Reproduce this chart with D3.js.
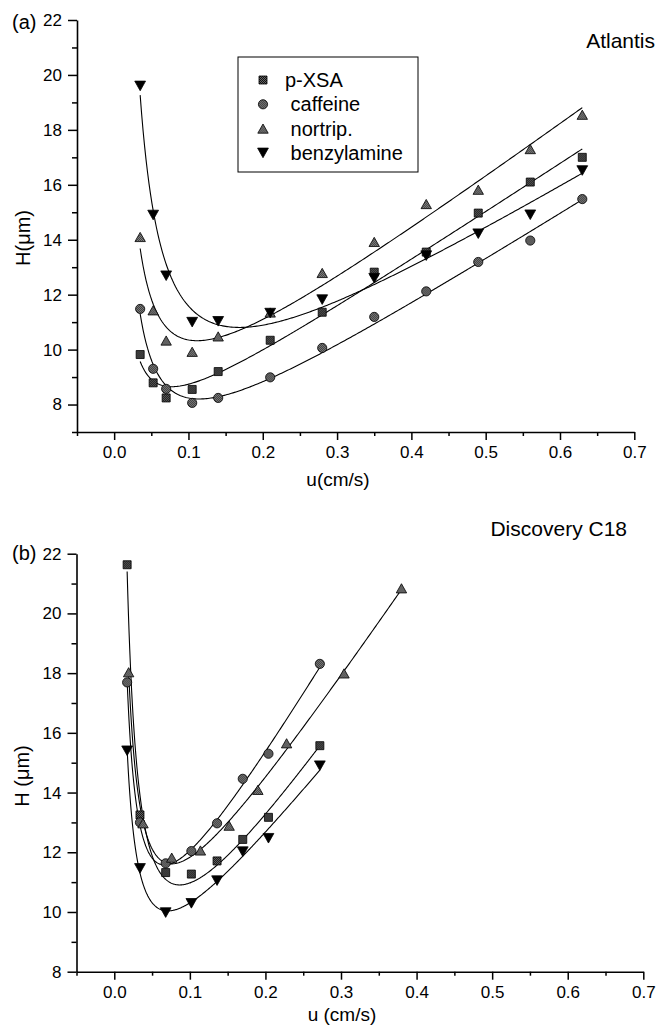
<!DOCTYPE html>
<html>
<head>
<meta charset="utf-8">
<script src="https://cdn.jsdelivr.net/npm/d3@7"></script>
<style>
  html, body { margin: 0; padding: 0; background: #fff; }
  svg { display: block; font-family: "Liberation Sans", Arial, sans-serif; }
  text { white-space: pre; }
</style>
</head>
<body>
<script>
// ---- Panel (a): Atlantis ----
const uA        = [0.035, 0.0525, 0.07, 0.105, 0.14, 0.21, 0.28, 0.35, 0.42, 0.49, 0.56, 0.63];
const pxsaA     = [9.82, 8.79, 8.24, 8.55, 9.20, 10.34, 11.36, 12.82, 13.55, 14.97, 16.10, 17.00];
const caffeineA = [11.48, 9.30, 8.57, 8.06, 8.24, 8.99, 10.06, 11.19, 12.12, 13.19, 13.97, 15.48];
const nortripA  = [14.10, 11.43, 10.33, 9.92, 10.48, 11.35, 12.79, 13.92, 15.30, 15.82, 17.30, 18.55];
const benzylA   = [19.60, 14.90, 12.69, 11.00, 11.03, 11.33, 11.82, 12.60, 13.42, 14.22, 14.91, 16.52];

// ---- Panel (b): Discovery C18 ----
const uB         = [0.017, 0.034, 0.068, 0.102, 0.136, 0.17, 0.204, 0.272];
const pxsaB      = [21.63, 13.25, 11.32, 11.27, 11.71, 12.43, 13.17, 15.57];
const caffeineB  = [17.69, 13.00, 11.63, 12.04, 12.97, 14.46, 15.30, 18.31];
const uNortripB  = [0.019, 0.038, 0.076, 0.114, 0.152, 0.19, 0.228, 0.304, 0.38];
const nortripB   = [18.03, 12.97, 11.82, 12.06, 12.89, 14.09, 15.65, 17.99, 20.84];
const benzylB    = [15.40, 11.46, 9.98, 10.29, 11.05, 12.02, 12.47, 14.90];

// ---- Axis ticks and labels ----
const xMajor = [0.0, 0.1, 0.2, 0.3, 0.4, 0.5, 0.6, 0.7];
const xMinor = [-0.05, 0.05, 0.15, 0.25, 0.35, 0.45, 0.55, 0.65];
const yMajor = [8, 10, 12, 14, 16, 18, 20, 22];
const yMinorA = [7, 9, 11, 13, 15, 17, 19, 21];
const yMinorB = [9, 11, 13, 15, 17, 19, 21];
const seriesNames = ["p-XSA", " caffeine", " nortrip.", " benzylamine"];
const seriesKeys  = ["square", "circle", "triangle", "down"];

const W = 659, H = 1027;
const svg = d3.select("body").append("svg").attr("width", W).attr("height", H);

// Dithered fills for the symbols
const defs = svg.append("defs");
function dither(id, base, dot) {
  const p = defs.append("pattern").attr("id", id)
    .attr("patternUnits", "userSpaceOnUse").attr("width", 2).attr("height", 2);
  p.append("rect").attr("width", 2).attr("height", 2).attr("fill", base);
  p.append("rect").attr("x", 0).attr("y", 0).attr("width", 1).attr("height", 1).attr("fill", dot);
  p.append("rect").attr("x", 1).attr("y", 1).attr("width", 1).attr("height", 1).attr("fill", dot);
}
dither("fillSquare", "#111", "#666");
dither("fillCircle", "#2e2e2e", "#8a8a8a");
dither("fillTriangle", "#333", "#8f8f8f");

const styleOf = {
  square:   { fill: "url(#fillSquare)" },
  circle:   { fill: "url(#fillCircle)" },
  triangle: { fill: "url(#fillTriangle)" },
  down:     { fill: "#000" }
};

function symbolPath(kind, s) {
  const k = s || 1;
  if (kind === "square") { const h = 4 * k; return `M${-h},${-h}H${h}V${h}H${-h}Z`; }
  if (kind === "circle") { const r = 4.6 * k; return `M${r},0A${r},${r} 0 1,1 ${-r},0A${r},${r} 0 1,1 ${r},0Z`; }
  if (kind === "triangle") { const w = 5.2 * k, h = 4.6 * k; return `M0,${-h}L${w},${h}L${-w},${h}Z`; }
  const w = 5.4 * k, h = 4.8 * k; return `M${-w},${-h}L${w},${-h}L0,${h}Z`;
}

// Least-squares van Deemter fit: H = A + B/u + C*u
function fitVanDeemter(us, hs) {
  const basis = u => [1, 1 / u, u];
  const M = [[0,0,0],[0,0,0],[0,0,0]], v = [0,0,0];
  us.forEach((u, i) => {
    const b = basis(u);
    for (let r = 0; r < 3; r++) {
      v[r] += b[r] * hs[i];
      for (let c = 0; c < 3; c++) M[r][c] += b[r] * b[c];
    }
  });
  // Gaussian elimination
  const a = M.map((row, i) => row.concat([v[i]]));
  for (let i = 0; i < 3; i++) {
    let p = i;
    for (let r = i + 1; r < 3; r++) if (Math.abs(a[r][i]) > Math.abs(a[p][i])) p = r;
    [a[i], a[p]] = [a[p], a[i]];
    for (let r = i + 1; r < 3; r++) {
      const f = a[r][i] / a[i][i];
      for (let c = i; c < 4; c++) a[r][c] -= f * a[i][c];
    }
  }
  const x = [0,0,0];
  for (let i = 2; i >= 0; i--) {
    let s = a[i][3];
    for (let c = i + 1; c < 3; c++) s -= a[i][c] * x[c];
    x[i] = s / a[i][i];
  }
  return u => x[0] + x[1] / u + x[2] * u;
}

function drawPanel(cfg) {
  const g = svg.append("g");
  const x = d3.scaleLinear().domain([-0.05, 0.7]).range(cfg.xRange);
  const y = d3.scaleLinear().domain(cfg.yDomain).range(cfg.yRange);
  const axisY = cfg.yRange[0], axisX = cfg.xRange[0];

  // minor ticks
  const xm = g.append("g").attr("transform", `translate(0,${axisY})`)
    .call(d3.axisBottom(x).tickValues(xMinor).tickSize(4).tickSizeOuter(0).tickFormat(""));
  xm.select(".domain").remove();
  const ym = g.append("g").attr("transform", `translate(${axisX},0)`)
    .call(d3.axisLeft(y).tickValues(cfg.yMinor).tickSize(5).tickSizeOuter(0).tickFormat(""));
  ym.select(".domain").remove();

  // major ticks and labels
  g.append("g").attr("transform", `translate(0,${axisY})`)
    .call(d3.axisBottom(x).tickValues(xMajor).tickSize(8).tickSizeOuter(0).tickPadding(6)
      .tickFormat(d3.format(".1f")));
  g.append("g").attr("transform", `translate(${axisX},0)`)
    .call(d3.axisLeft(y).tickValues(yMajor).tickSize(9).tickSizeOuter(0).tickPadding(6)
      .tickFormat(d3.format("d")));

  g.selectAll(".tick text").attr("font-size", 17).attr("fill", "#000")
    .attr("font-family", "Liberation Sans, Arial, sans-serif");
  g.selectAll(".tick line").attr("stroke", "#000").attr("stroke-width", 1.5);
  g.selectAll(".domain").attr("stroke", "#000").attr("stroke-width", 1.6);

  // fitted curves
  const line = d3.line().x(d => x(d[0])).y(d => y(d[1]));
  cfg.series.forEach(s => {
    const f = fitVanDeemter(s.u, s.h);
    const u0 = d3.min(s.u), u1 = d3.max(s.u);
    const pts = d3.range(0, 301).map(i => { const u = u0 + (u1 - u0) * i / 300; return [u, f(u)]; });
    g.append("path").attr("d", line(pts)).attr("fill", "none")
      .attr("stroke", "#000").attr("stroke-width", 1.1);
  });

  // symbols
  cfg.series.forEach(s => {
    g.append("g").selectAll("path").data(s.u.map((u, i) => [u, s.h[i]])).join("path")
      .attr("transform", d => `translate(${x(d[0])},${y(d[1])})`)
      .attr("d", symbolPath(s.kind))
      .attr("fill", styleOf[s.kind].fill)
      .attr("stroke", "#000").attr("stroke-width", 0.8);
  });

  // texts
  g.append("text").attr("x", 12).attr("y", cfg.tagY).attr("font-size", 20).text(cfg.tag);
  g.append("text").attr("x", cfg.titleX).attr("y", cfg.titleY).attr("font-size", 21)
    .attr("text-anchor", "end").text(cfg.title);
  g.append("text").attr("x", cfg.xTitleX).attr("y", cfg.xTitleY).attr("font-size", 19)
    .attr("text-anchor", "middle").text(cfg.xTitle);
  g.append("text").attr("transform", `translate(${cfg.yTitleX},${cfg.yTitleY}) rotate(-90)`)
    .attr("font-size", 20).attr("text-anchor", "middle").text(cfg.yTitle);
  return g;
}

drawPanel({
  xRange: [77, 634.3], yDomain: [7, 22], yRange: [432, 20], yMinor: yMinorA,
  series: [
    { u: uA, h: pxsaA, kind: "square" },
    { u: uA, h: caffeineA, kind: "circle" },
    { u: uA, h: nortripA, kind: "triangle" },
    { u: uA, h: benzylA, kind: "down" }
  ],
  tag: "(a)", tagY: 29, title: "Atlantis", titleX: 655, titleY: 48,
  xTitle: "u(cm/s)", xTitleX: 338, xTitleY: 486,
  yTitle: "H(\u03bcm)", yTitleX: 30, yTitleY: 238
});

drawPanel({
  xRange: [76.5, 643.3], yDomain: [8, 22], yRange: [971.7, 553.7], yMinor: yMinorB,
  series: [
    { u: uB, h: pxsaB, kind: "square" },
    { u: uB, h: caffeineB, kind: "circle" },
    { u: uNortripB, h: nortripB, kind: "triangle" },
    { u: uB, h: benzylB, kind: "down" }
  ],
  tag: "(b)", tagY: 560, title: "Discovery C18", titleX: 627, titleY: 536,
  xTitle: "u (cm/s)", xTitleX: 342, xTitleY: 1021,
  yTitle: "H (\u03bcm)", yTitleX: 29, yTitleY: 776
});

// Legend for panel (a)
const leg = svg.append("g");
leg.append("rect").attr("x", 238).attr("y", 57).attr("width", 180).attr("height", 115)
  .attr("fill", "#fff").attr("stroke", "#000").attr("stroke-width", 1);
seriesKeys.forEach((k, i) => {
  const cy = 80 + i * 24.3;
  leg.append("path").attr("transform", `translate(263,${cy})`).attr("d", symbolPath(k))
    .attr("fill", styleOf[k].fill).attr("stroke", "#000").attr("stroke-width", 0.8);
  leg.append("text").attr("x", 285).attr("y", cy + 7).attr("font-size", 20).text(seriesNames[i]);
});
</script>
</body>
</html>
